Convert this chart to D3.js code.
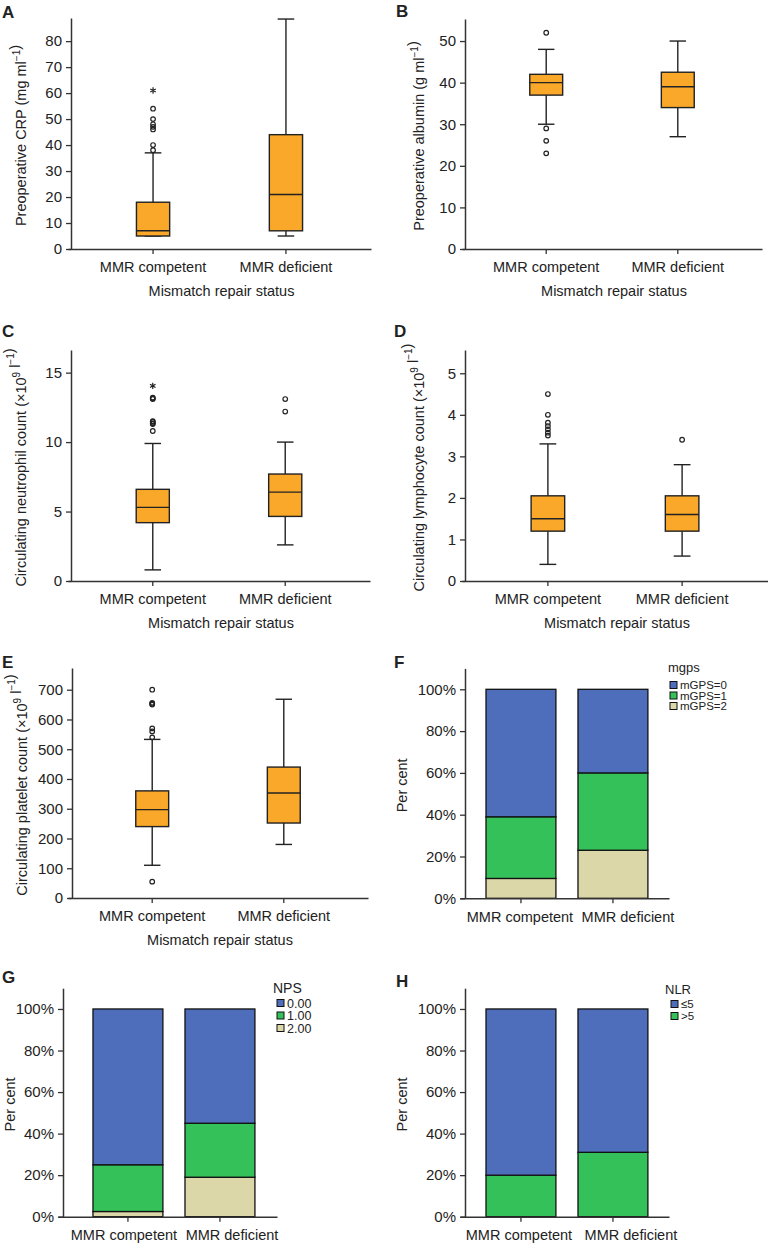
<!DOCTYPE html>
<html><head><meta charset="utf-8">
<script src="https://cdn.jsdelivr.net/npm/d3@7"></script>
<style>
body{margin:0;background:#fff;}
svg text{font-family:"Liberation Sans", Arial, Helvetica, sans-serif; fill:#222;}
</style></head><body>
<svg id="chart" width="768" height="1243" xmlns="http://www.w3.org/2000/svg"></svg>
<script>
// ---------- DATA ----------
const categories = ["MMR competent", "MMR deficient"];
const xTitle = "Mismatch repair status";

// box stats per category: [lower whisker, Q1, median, Q3, upper whisker]
const crpStats = [[5, 5, 7, 18, 37], [5, 7, 21, 44, 88.5]];
const crpOutliers = [[38, 40, 46, 47, 48, 50, 54], []];
const crpExtremes = [[61], []];
const crpTicks = [0, 10, 20, 30, 40, 50, 60, 70, 80];

const albStats = [[30, 37, 40, 42, 48], [27, 34, 39, 42.5, 50]];
const albOutliers = [[52, 29, 26, 23], []];
const albExtremes = [[], []];
const albTicks = [0, 10, 20, 30, 40, 50];

const neuStats = [[0.8, 4.2, 5.3, 6.6, 9.9], [2.6, 4.65, 6.4, 7.7, 10]];
const neuOutliers = [[10.8, 11.3, 11.35, 11.45, 11.5, 13.1, 13.15, 13.2], [12.2, 13.1]];
const neuExtremes = [[14.05], []];
const neuTicks = [0, 5, 10, 15];

const lymStats = [[0.4, 1.2, 1.5, 2.05, 3.3], [0.6, 1.2, 1.6, 2.05, 2.8]];
const lymOutliers = [[3.5, 3.57, 3.65, 3.73, 3.81, 4.0, 4.5], [3.4]];
const lymExtremes = [[], []];
const lymTicks = [0, 1, 2, 3, 4, 5];

const pltStats = [[110, 240, 297, 360, 533], [180, 252, 353, 440, 668]];
const pltOutliers = [[55, 540, 560, 570, 650, 653, 656, 700], []];
const pltExtremes = [[], []];
const pltTicks = [0, 100, 200, 300, 400, 500, 600, 700];

// stacked percentages (per category, legend order top-down)
const mgpsLabels = ["mGPS=0", "mGPS=1", "mGPS=2"];
const mgpsCompetent = [61, 29.5, 9.5];
const mgpsDeficient = [40, 37, 23];

const npsLabels = ["0.00", "1.00", "2.00"];
const npsCompetent = [75, 22.5, 2.5];
const npsDeficient = [55, 26, 19];

const nlrLabels = ["\u22645", ">5"];
const nlrCompetent = [80, 20];
const nlrDeficient = [69, 31];

const pctTicks = [0, 0.2, 0.4, 0.6, 0.8, 1.0];

// ---------- STYLE ----------
const ORANGE = "#F9A82A";
const STACK_COLORS = ["#4E6DBA", "#34C15A", "#DCD7A8"];
const INK = "#222";

const svg = d3.select("#chart");

function styleAxis(g, fs) {
  g.select(".domain").attr("stroke", "#333").attr("stroke-width", 1.5);
  g.selectAll(".tick line").attr("stroke", "#333").attr("stroke-width", 1.3);
  g.selectAll(".tick text").attr("font-size", fs).attr("fill", INK);
}

function yLabel(g, parts, x, y) {
  const t = g.append("text")
    .attr("transform", `translate(${x},${y}) rotate(-90)`)
    .attr("text-anchor", "middle")
    .attr("font-size", 14.5);
  parts.forEach(p => {
    if (typeof p === "string") {
      t.append("tspan").text(p);
    } else {
      t.append("tspan").attr("font-size", 10).attr("dy", -6).text(p.sup);
      t.append("tspan").attr("dy", 6).text("");
    }
  });
}

function letter(g, s, x, y) {
  g.append("text").attr("x", x).attr("y", y).attr("font-size", 17)
    .attr("font-weight", "bold").attr("fill", "#111").text(s);
}

function boxPanel(cfg) {
  const g = svg.append("g");
  const y = d3.scaleLinear().domain([0, cfg.yMax]).range([cfg.bottom, cfg.top]);
  const x = d3.scaleBand().domain(categories).range(cfg.xRange)
    .paddingInner(0.75).paddingOuter(0.515).align(0.5);
  const bw = x.bandwidth();

  const ya = g.append("g").attr("transform", `translate(${cfg.axisX},0)`)
    .call(d3.axisLeft(y).tickValues(cfg.ticks).tickFormat(d3.format("~g"))
      .tickSize(5).tickPadding(4).tickSizeOuter(0));
  styleAxis(ya, 15);
  const xa = g.append("g").attr("transform", `translate(0,${cfg.bottom})`)
    .call(d3.axisBottom(x).tickSize(5).tickPadding(8).tickSizeOuter(0));
  styleAxis(xa, 14.5);

  categories.forEach((c, i) => {
    const [lo, q1, med, q3, hi] = cfg.stats[i];
    const cx = x(c) + bw / 2;
    const lg = g.append("g").attr("stroke", INK).attr("stroke-width", 1.4);
    lg.append("line").attr("x1", cx).attr("x2", cx).attr("y1", y(hi)).attr("y2", y(q3));
    lg.append("line").attr("x1", cx).attr("x2", cx).attr("y1", y(q1)).attr("y2", y(lo));
    lg.append("line").attr("x1", cx - bw / 4).attr("x2", cx + bw / 4).attr("y1", y(hi)).attr("y2", y(hi));
    lg.append("line").attr("x1", cx - bw / 4).attr("x2", cx + bw / 4).attr("y1", y(lo)).attr("y2", y(lo));
    lg.append("rect").attr("x", x(c)).attr("width", bw).attr("y", y(q3))
      .attr("height", y(q1) - y(q3)).attr("fill", ORANGE);
    lg.append("line").attr("x1", x(c)).attr("x2", x(c) + bw).attr("y1", y(med)).attr("y2", y(med));

    g.selectAll(null).data(cfg.outliers[i]).enter().append("circle")
      .attr("cx", cx).attr("cy", d => y(d)).attr("r", 2.3)
      .attr("fill", "none").attr("stroke", INK).attr("stroke-width", 1.2);
    g.selectAll(null).data(cfg.extremes[i]).enter().append("path")
      .attr("transform", d => `translate(${cx},${y(d)})`)
      .attr("d", d3.symbol(d3.symbolAsterisk, 28)())
      .attr("fill", "none").attr("stroke", INK).attr("stroke-width", 1.2);
  });

  g.append("text").attr("x", (cfg.xRange[0] + cfg.xRange[1]) / 2 + 2)
    .attr("y", cfg.bottom + 46.5).attr("text-anchor", "middle")
    .attr("font-size", 14.5).text(xTitle);
  yLabel(g, cfg.ylab, cfg.ylabX, (cfg.top + cfg.bottom) / 2 + 2);
  letter(g, cfg.letter, cfg.letterX, cfg.letterY);
}

function stackPanel(cfg) {
  const g = svg.append("g");
  const y = d3.scaleLinear().domain([0, 1.1]).range([cfg.bottom, cfg.top]);
  const x = d3.scaleBand().domain(categories).range(cfg.xRange)
    .paddingInner(0.24).paddingOuter(cfg.padOuter).align(cfg.align);
  const bw = x.bandwidth();

  const rows = categories.map((c, i) => {
    const r = { cat: c };
    cfg.labels.forEach((l, j) => { r[l] = cfg.values[i][j] / 100; });
    return r;
  });
  const keys = cfg.labels.slice().reverse();
  const color = d3.scaleOrdinal().domain(cfg.labels).range(STACK_COLORS);
  const series = d3.stack().keys(keys)(rows);

  series.forEach(s => {
    g.selectAll(null).data(s).enter().append("rect")
      .attr("x", d => x(d.data.cat)).attr("width", bw)
      .attr("y", d => y(d[1])).attr("height", d => y(d[0]) - y(d[1]))
      .attr("fill", color(s.key)).attr("stroke", "#111").attr("stroke-width", 1.3);
  });

  const ya = g.append("g").attr("transform", `translate(${cfg.axisX},0)`)
    .call(d3.axisLeft(y).tickValues(pctTicks).tickFormat(d3.format(".0%"))
      .tickSize(5).tickPadding(4).tickSizeOuter(0));
  styleAxis(ya, 15);
  const xa = g.append("g").attr("transform", `translate(0,${cfg.bottom})`)
    .call(d3.axisBottom(x).tickSize(5).tickPadding(8).tickSizeOuter(0));
  styleAxis(xa, 14.5);
  xa.selectAll(".tick text").attr("dx", (d, i) => cfg.labelDx[i]);

  yLabel(g, ["Per cent"], cfg.ylabX, (cfg.top + cfg.bottom) / 2 + 2);
  letter(g, cfg.letter, cfg.letterX, cfg.letterY);

  const lg = g.append("g");
  lg.append("text").attr("x", cfg.leg.x).attr("y", cfg.leg.titleY)
    .attr("font-size", cfg.leg.titleFs).text(cfg.leg.title);
  cfg.labels.forEach((l, j) => {
    const cy = cfg.leg.y0 + j * cfg.leg.dy;
    lg.append("rect").attr("x", cfg.leg.sx).attr("y", cy - 3.5).attr("width", 7).attr("height", 7)
      .attr("fill", color(l)).attr("stroke", "#111").attr("stroke-width", 1);
    lg.append("text").attr("x", cfg.leg.sx + 10).attr("y", cy).attr("dy", "0.36em")
      .attr("font-size", cfg.leg.fs).text(l);
  });
}

// ---------- PANELS ----------
boxPanel({ letter: "A", letterX: 2, letterY: 18, stats: crpStats, outliers: crpOutliers, extremes: crpExtremes,
  ticks: crpTicks, yMax: 88.9, axisX: 71, bottom: 249, top: 18, xRange: [68, 371],
  ylab: ["Preoperative CRP (mg ml", { sup: "\u22121" }, ")"], ylabX: 26 });

boxPanel({ letter: "B", letterX: 396, letterY: 17, stats: albStats, outliers: albOutliers, extremes: albExtremes,
  ticks: albTicks, yMax: 55.3, axisX: 465, bottom: 249, top: 19, xRange: [462, 762],
  ylab: ["Preoperative albumin (g ml", { sup: "\u22121" }, ")"], ylabX: 424 });

boxPanel({ letter: "C", letterX: 2, letterY: 337, stats: neuStats, outliers: neuOutliers, extremes: neuExtremes,
  ticks: neuTicks, yMax: 16.63, axisX: 71, bottom: 581, top: 350, xRange: [68, 370],
  ylab: ["Circulating neutrophil count (\u00d710", { sup: "9" }, " l", { sup: "\u22121" }, ")"], ylabX: 26 });

boxPanel({ letter: "D", letterX: 394, letterY: 337, stats: lymStats, outliers: lymOutliers, extremes: lymExtremes,
  ticks: lymTicks, yMax: 5.56, axisX: 465, bottom: 581, top: 350, xRange: [462, 768],
  ylab: ["Circulating lymphocyte count (\u00d710", { sup: "9" }, " l", { sup: "\u22121" }, ")"], ylabX: 424 });

boxPanel({ letter: "E", letterX: 2, letterY: 668, stats: pltStats, outliers: pltOutliers, extremes: pltExtremes,
  ticks: pltTicks, yMax: 773, axisX: 72, bottom: 898, top: 668, xRange: [68, 368],
  ylab: ["Circulating platelet count (\u00d710", { sup: "9" }, " l", { sup: "\u22121" }, ")"], ylabX: 27 });

stackPanel({ letter: "F", letterX: 394, letterY: 668, labels: mgpsLabels, values: [mgpsCompetent, mgpsDeficient],
  axisX: 465, bottom: 898.3, top: 668.4, xRange: [460, 669], padOuter: 0.256, align: 0.552, ylabX: 407,
  labelDx: [-1, 15],
  leg: { title: "mgps", x: 668, titleY: 672, titleFs: 13, sx: 670, y0: 685, dy: 10.5, fs: 11.5 } });

stackPanel({ letter: "G", letterX: 2, letterY: 983, labels: npsLabels, values: [npsCompetent, npsDeficient],
  axisX: 63, bottom: 1216.7, top: 988.2, xRange: [58, 277], padOuter: 0.31, align: 0.613, ylabX: 15,
  labelDx: [-4, 12],
  leg: { title: "NPS", x: 273, titleY: 993, titleFs: 14, sx: 277, y0: 1003, dy: 12.5, fs: 12.5 } });

stackPanel({ letter: "H", letterX: 396, letterY: 987, labels: nlrLabels, values: [nlrCompetent, nlrDeficient],
  axisX: 465, bottom: 1216.7, top: 988.2, xRange: [460, 669], padOuter: 0.256, align: 0.552, ylabX: 407,
  labelDx: [-2, 18],
  leg: { title: "NLR", x: 665, titleY: 994, titleFs: 13, sx: 671, y0: 1004, dy: 12, fs: 11.5 } });
</script>
</body></html>
